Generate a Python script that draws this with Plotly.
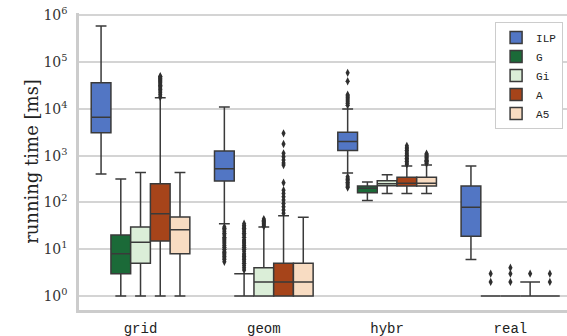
import plotly.graph_objects as go

groups = ["grid", "geom", "hybr", "real"]
methods = ["ILP", "G", "Gi", "A", "A5"]
colors = ["#5276c4", "#1b6a38", "#dbeed8", "#a6441a", "#f8dcc2"]

# box statistics per method (ms), one entry per group
lowerfence = {
    "ILP": [407, 35, 427, 6],
    "G":   [1, 1, 110, 1],
    "Gi":  [1, 1, 156, 1],
    "A":   [1, 1, 156, 1],
    "A5":  [1, 1, 156, 1],
}
q1 = {
    "ILP": [3090, 288, 1290, 19],
    "G":   [3, 1, 162, 1],
    "Gi":  [5, 1, 228, 1],
    "A":   [15, 1, 224, 1],
    "A5":  [8, 1, 224, 1],
}
median = {
    "ILP": [6600, 525, 2000, 79],
    "G":   [8, 1, 200, 1],
    "Gi":  [14, 2, 250, 1],
    "A":   [57, 2, 257, 1],
    "A5":  [26, 2, 257, 1],
}
q3 = {
    "ILP": [36300, 1260, 3160, 224],
    "G":   [20, 1, 224, 1],
    "Gi":  [30, 4, 290, 1],
    "A":   [251, 5, 345, 1],
    "A5":  [49, 5, 345, 1],
}
upperfence = {
    "ILP": [589000, 11000, 10000, 600],
    "G":   [316, 3, 275, 1],
    "Gi":  [436, 30, 390, 1],
    "A":   [17400, 52, 600, 2],
    "A5":  [436, 48, 630, 1],
}
# outliers per method, per group (ms)
outliers = {
    "ILP": [
        [],
        [5.4, 6, 6.5, 7, 7.5, 8, 8.5, 9, 10, 11, 12, 13, 14, 15, 16, 17, 18, 20, 22, 24, 26, 28, 30],
        [209, 220, 235, 250, 270, 290, 310, 330, 355,
         12000, 13000, 14000, 15000, 16000, 17000, 18000, 19000, 20000, 39000, 59000],
        [],
    ],
    "G": [
        [],
        [3.6, 4, 4.5, 5, 5.5, 6, 6.5, 7, 7.5, 8, 9, 10, 11, 12, 13, 14, 15, 16, 18, 20,
         22, 24, 26, 28, 30, 32, 35],
        [],
        [2, 3],
    ],
    "Gi": [
        [],
        [31, 33, 35, 37, 39, 41, 44],
        [],
        [2, 3, 4],
    ],
    "A": [
        [18000, 20000, 22000, 24000, 26000, 28000, 30000, 32000, 34000, 36000, 38000,
         40000, 42000, 44000, 46000, 48000, 50000],
        [59, 69, 81, 95, 112, 132, 156, 183, 263, 630, 700, 810, 950, 1120, 1780, 3000],
        [650, 700, 760, 820, 880, 950, 1020, 1100, 1200, 1300, 1400, 1500, 1620],
        [3],
    ],
    "A5": [
        [],
        [],
        [680, 720, 760, 800, 850, 900, 950, 1000, 1050, 1100],
        [2, 3],
    ],
}

ytick_vals = [1, 10, 100, 1000, 10000, 100000, 1000000]
ytick_text = ["10<sup>%d</sup>" % i for i in range(7)]

box_width = 0.8 / len(methods)
edge = "#3a3a3a"

fig = go.Figure()
for h, m in enumerate(methods):
    offset = (h - (len(methods) - 1) / 2) * box_width
    xs = [g + offset for g in range(len(groups))]
    normal = [i for i in range(len(groups)) if q1[m][i] != q3[m][i]]
    flat = [i for i in range(len(groups)) if q1[m][i] == q3[m][i]]
    for idx, ww, show in ((normal, 0.55, True), (flat, 1.0, False)):
        if not idx:
            continue
        fig.add_trace(go.Box(
            name=m,
            legendgroup=m,
            showlegend=show if normal else (not show),
            x=[xs[i] for i in idx],
            q1=[q1[m][i] for i in idx],
            median=[median[m][i] for i in idx],
            q3=[q3[m][i] for i in idx],
            lowerfence=[lowerfence[m][i] for i in idx],
            upperfence=[upperfence[m][i] for i in idx],
            width=box_width,
            whiskerwidth=ww,
            fillcolor=colors[h],
            line=dict(color=edge, width=1.5),
            boxpoints=False,
        ))
    ox, oy = [], []
    for i in range(len(groups)):
        for v in outliers[m][i]:
            ox.append(xs[i])
            oy.append(v)
    if ox:
        fig.add_trace(go.Scatter(
            x=ox, y=oy, mode="markers", showlegend=False, legendgroup=m,
            marker=dict(symbol="diamond-tall", size=6, color="#2f2f2f",
                        line=dict(width=0)),
            hoverinfo="skip",
        ))

fig.update_layout(
    width=567, height=336,
    margin=dict(l=79, r=0, t=13, b=26),
    paper_bgcolor="white", plot_bgcolor="white",
    boxmode="overlay",
    font=dict(family="DejaVu Serif", color="#333333"),
    legend=dict(
        x=0.992, y=0.97, xanchor="right", yanchor="top",
        bgcolor="white", bordercolor="#cccccc", borderwidth=1,
        font=dict(family="Liberation Mono", size=11, color="#222222"),
        tracegroupgap=0,
    ),
)
fig.update_xaxes(
    range=[-0.499, 3.459],
    tickmode="array", tickvals=list(range(len(groups))), ticktext=groups,
    tickfont=dict(family="Liberation Mono", size=14, color="#222222"),
    showgrid=False, zeroline=False,
    showline=True, linecolor="#cccccc", linewidth=2.5,
    ticks="", ticklabelstandoff=3,
)
fig.update_yaxes(
    type="log", range=[-0.3, 6.05],
    tickmode="array", tickvals=ytick_vals, ticktext=ytick_text,
    tickfont=dict(family="DejaVu Serif", size=14, color="#333333"),
    showgrid=True, gridcolor="#d4d4d4", gridwidth=2,
    zeroline=False,
    showline=True, linecolor="#cccccc", linewidth=2.5,
    ticks="", ticklabelstandoff=6,
    title=dict(text="running time [ms]", font=dict(family="DejaVu Serif", size=18, color="#222222"), standoff=1),
)

fig.write_html("out.html", config={"displayModeBar": False},
               post_script="document.body.style.margin='0px';document.body.style.overflow='hidden';")
